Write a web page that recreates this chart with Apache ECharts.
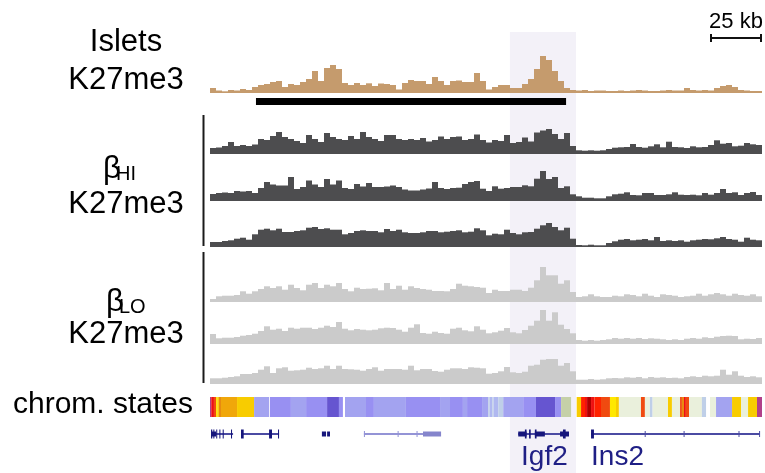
<!DOCTYPE html>
<html>
<head>
<meta charset="UTF-8">
<title>Igf2 / Ins2 K27me3</title>
<script src="https://cdn.jsdelivr.net/npm/echarts@6/dist/echarts.min.js"></script>
<style>
  html, body { margin: 0; padding: 0; background: #fff; }
  #main { width: 765px; height: 473px; }
</style>
</head>
<body>
<div id="main"></div>
<script>
// region shown, in kb (scale bar = 25 kb)
var regionKb = 265.4;

// signal, one value per bin (92 bins across the region)
var islets = [5,2.5,1.7,3,2.5,4,3,6,8,9,11,12,6,9,8,11,14,22,12,25,28,24,10,8,10,8,9.7,7,9.5,9,8,3.5,10,13,12,12,9,16,12,8,12,12.5,11,11,20,12,
  3.5,6,8,8,5,5,9,14,24,37,33,22,12,5,3,2.5,3,2,2.5,2.5,2,2,2.5,2,2.5,3,2.5,2,2,2.5,3,2.5,2.5,5,3,2.5,3,2.5,5,7,8,6,3,2.5,2,2];
var hi1 = [6,6.5,8,12,8,9,8,9.5,15,14,18,22,17,15,13,11,19,15,12,21,17,15,14,18,15,22,17,15,13,19,19,15,14,15,14,16,12.5,14,17.5,15,17,17.5,14,15,19.5,14,
  11.5,14,13,19,11,12,16.5,12.5,21.5,23.5,25,20,15,21,8,3.7,3.3,3.7,3.3,3.7,5,6.3,6.7,7,10,7,6.3,7.7,9.7,6.7,12.3,7,6.7,6,7.7,6.7,7,9,13.7,10.3,11,7.7,8.3,11,9.7,9];
var hi2 = [7,8,8.5,8,10,9.5,10,8,13,19,16.5,15.5,15.5,24,12,14,20.5,16.5,14,22,16.5,20.5,13,12,17,14.5,18,14,14,14.5,15.5,14,11.5,10.5,10.5,11.5,12.5,19,13,12,13,13.3,17,19,20,12.3,
  10,14.7,12.3,13,14,14,15.7,14.7,22.3,30,22,24,13,14.7,6.7,4.7,3.3,3.3,2.7,2.7,4.7,6.7,7.3,8.7,6,5.7,8,8,6,6,6.7,8.7,6.3,6,6.3,5.7,8,6.3,8,12,8,8.7,6,8,9,6];
var hi3 = [5,5,6,6.7,8.3,9.3,7.3,12.7,17.3,18.3,16.7,18.3,15,15,16,16.7,19.3,20,18,18.7,17.3,17.3,12.7,14,16,16.7,16,16,14.7,18,16,17.3,14.7,14,14,14.7,16,16,14.7,15.3,16,16.7,14.7,15.3,18.7,16.7,
  11.7,13.3,12.7,17.3,14,12.7,14.7,15,18.3,21.7,24,20,16.7,19.3,8.3,2,1.7,2.3,1.7,1.7,4,5.7,7.3,8,6.7,7.3,8,6.7,10,6,6.7,6,6.7,5.3,6.7,7.3,8,7.7,8.7,10,8,7.3,5.3,9.3,7.3,6.7];
var lo1 = [3,5.7,6.3,6.3,7,10.7,8.3,10.7,13,15.7,14,15.7,12.3,17.3,14,11.7,17.3,19,14,17.3,15.7,19,13,10.7,14.3,13,13.3,13.7,11.7,19,13,16.3,12.3,15.7,14,13,12.3,11,11,10.7,13,18.3,16.3,15.7,15,14.3,
  9,12.3,11,11,12.3,12.3,11,14.3,21.7,35,26.7,26.7,18.3,21.7,10,5,5.7,7.7,5.7,5,5,6.3,5.7,7.7,7,5.7,8.3,6.3,5,7.7,7,6.3,5,5.7,6.3,8.3,6.3,7.7,9,7.7,6.3,8.3,7,6.3,7.7,5.7];
var lo2 = [10,5.7,6.3,6.3,7,8.3,9,10.3,13,17.7,14.3,15.3,13,16.3,15.3,16.3,16.3,15,16.3,18.3,17,22,15.3,13.7,15,14.3,13.7,14.3,15.7,16.3,16,14.3,12.3,16.3,19.7,11,10.3,12.3,11,10.3,15.3,16.3,13.7,12.7,17.7,14.3,
  10.7,11.7,13.3,16,11.7,10.7,14,18.3,23.3,34,23.3,31.7,19.3,15,10.7,4,3.3,4,3.3,4,4.7,6,5.3,6,5.3,6,5,5.7,5.3,4.7,4,4.7,4,5.3,6,5.3,6.7,6,7.3,8,8.3,8,4.7,5.3,5,6];
var lo3 = [5.7,5.7,6.3,7,7.7,10,10,11,14.3,17.7,11,15.7,16.7,13.3,13.7,14.3,16.3,15,15.7,18.3,15,18.3,15,14.7,14.3,13.3,15,16.7,13.3,15,15,15,14.3,18.3,13.7,15,15,13,12.3,14.3,15.7,15.7,15,16.7,16.3,15.7,
  10.3,11,12.7,17,11.7,11,12.3,18.3,19.3,24.3,25,25,18.3,21,12.7,4.3,4.3,5,4.3,4.7,5.7,6,5.7,6.7,6.3,7,5.7,7,6.3,6.7,6,6.3,5.7,7,7.7,7,8.3,7.7,8.3,14.3,9.3,12.7,8.3,7,7.7,6.7];

// chromatin state segments [start kb, end kb, state]
var chromStates = [
  [0,0.6,'biv'],[0.6,1.9,'tssA'],[1.9,2.9,'tssFlnk'],[2.9,3.5,'enhStrong'],[3.5,4.3,'enh'],[4.3,5.3,'enhOrange'],
  [5.3,13.0,'enhWeak'],[13.0,21.2,'enh'],[21.2,28.4,'reprWeak'],[28.8,38.9,'repr'],[38.9,46.2,'reprWeak'],
  [46.2,56.3,'repr'],[56.3,62.0,'reprStrong'],[62.0,63.9,'repr'],[64.9,75.0,'reprWeak'],[75.0,78.8,'repr'],
  [78.8,94.2,'reprWeak'],[94.2,110.6,'repr'],[110.6,115.4,'reprWeak'],[115.4,121.6,'repr'],[121.6,123.6,'reprWeak'],
  [123.6,130.8,'repr'],[130.8,133.8,'reprWeak'],[133.8,134.5,'het'],[134.5,135.7,'reprFaint'],[135.7,136.4,'het'],
  [136.4,138.6,'reprFaint'],[138.6,141.0,'het'],[141.0,150.6,'reprWeak'],[150.6,156.7,'repr'],[156.7,165.9,'reprStrong'],
  [165.9,168.8,'repr'],[168.8,173.6,'enhBiv'],[176.3,178.4,'enh'],[178.4,180.3,'tssFlnk2'],[180.3,181.3,'tssA'],
  [181.3,183.2,'tssDark'],[183.2,184.8,'tssA'],[184.8,188.0,'tssFlnk2'],[188.0,192.3,'tssFlnk'],[192.3,195.2,'enhStrong'],
  [195.2,196.6,'enh'],[196.6,207.2,'low'],[207.2,209.1,'tssFlnk'],[209.1,211.5,'low'],[211.5,212.8,'het'],
  [212.8,220.2,'low'],[220.2,222.1,'enh'],[222.1,226.0,'low'],[226.0,226.9,'tssFlnk'],[226.9,227.9,'enhOrange'],
  [227.9,228.8,'tssA'],[228.8,230.3,'tssFlnk'],[230.3,236.5,'low'],[236.5,238.5,'het'],[240.4,243.3,'low'],
  [243.3,251.0,'reprWeak'],[251.0,255.3,'enh'],[255.3,258.7,'low'],[258.7,263.0,'enh'],[263.0,265.4,'biv']
];

// gene models [start kb, end kb, part]
var geneParts = [
  [0.5,11.1,'line'],[0.5,2.9,'utr'],[0.5,1.1,'cds'],[1.6,2.1,'cds'],[3.0,3.4,'cds'],[4.5,5.0,'cds'],[6.1,6.6,'cds'],[10.1,10.6,'cds'],
  [14.9,33.2,'line'],[14.9,16.2,'cds'],[28.4,29.8,'cds'],[32.7,33.2,'cds'],
  [53.8,55.8,'utr'],[56.3,57.7,'utr'],
  [74.0,102.4,'lineLt'],[102.4,111.1,'utrLt'],[74.0,74.5,'tickLt'],[90.2,90.7,'tickLt'],[99.3,99.8,'tickLt'],
  [148.2,172.6,'line'],[148.2,152.2,'utr'],[151.4,152.2,'cds'],[153.4,154.2,'cds'],[156.2,161.0,'utr'],[156.2,157.0,'cds'],
  [168.3,172.6,'utr'],[169.7,171.0,'cds'],
  [183.2,264.4,'line'],[183.2,184.6,'cds'],[209.0,209.4,'tick'],[227.7,228.1,'tick'],[254.1,254.5,'tick'],[264.0,264.4,'tick']
];
var geneLabels = [[160.8,'Igf2','center'],[183.2,'Ins2','left']];

var highlightKb = [[144.2,176.0]];   // Igf2 locus
var domainKb = [[22.1,171.2]];       // black bar under islet track
var scaleKb = [[regionKb - 25, regionKb, '25 kb']];

var stateColors = {
  biv: '#b0408a', tssA: '#ee1111', tssDark: '#b00000', tssFlnk: '#f04a10', tssFlnk2: '#ff2200',
  enhStrong: '#ffe800', enh: '#f8cc00', enhWeak: '#f0a70a', enhOrange: '#e88a10',
  reprStrong: '#6655d0', repr: '#9890f2', reprWeak: '#a3a3f0', reprFaint: '#b0b8f0',
  het: '#bfcfe8', enhBiv: '#c5d0a8', low: '#eaf0dc'
};
var partStyle = {
  line:   { h: 2, fill: '#4b4ba3' },
  utr:    { h: 5, fill: '#16167c' },
  cds:    { h: 9, fill: '#16167c' },
  tick:   { h: 6, fill: '#4b4ba3' },
  lineLt: { h: 2, fill: '#9494d6' },
  utrLt:  { h: 5, fill: '#8585cc' },
  tickLt: { h: 6, fill: '#9494d6' }
};

var FONT = "'Liberation Sans', Arial, sans-serif";
var bins = islets.map(function (v, i) { return i; });

var grids = [], xAxes = [], yAxes = [], series = [];

function addGrid(top, height, useBins, ymax) {
  var idx = grids.length;
  grids.push({ left: 210, width: 552, top: top, height: height, show: false });
  if (useBins) {
    xAxes.push({ type: 'category', gridIndex: idx, data: bins, show: false });
  } else {
    xAxes.push({ type: 'value', gridIndex: idx, min: 0, max: regionKb, show: false });
  }
  yAxes.push({ type: 'value', gridIndex: idx, min: 0, max: ymax, show: false });
  return idx;
}

function addTrack(top, height, values, color) {
  var g = addGrid(top, height, true, height);
  series.push({
    type: 'bar', xAxisIndex: g, yAxisIndex: g, data: values,
    barCategoryGap: '0%', barGap: '0%', silent: true, z: 3,
    itemStyle: { color: color }
  });
}

function rectRender(fillFn) {
  return function (params, api) {
    var a = api.coord([api.value(0), 0]);
    var b = api.coord([api.value(1), 0]);
    var cs = params.coordSys;
    return {
      type: 'rect',
      shape: { x: a[0], y: cs.y, width: b[0] - a[0], height: cs.height },
      style: { fill: fillFn(params.dataIndex) }
    };
  };
}

// highlight band behind everything
var gH = addGrid(32, 441, false, 1);
series.push({
  type: 'custom', xAxisIndex: gH, yAxisIndex: gH, data: highlightKb, z: 1, silent: true,
  renderItem: rectRender(function () { return '#f3f1f8'; })
});

// scale bar
var gS = addGrid(8, 34, false, 1);
series.push({
  type: 'custom', xAxisIndex: gS, yAxisIndex: gS, data: scaleKb, z: 4, silent: true,
  renderItem: function (params, api) {
    var a = api.coord([api.value(0), 0]);
    var b = api.coord([api.value(1), 0]);
    var y = 38;
    return {
      type: 'group', children: [
        { type: 'rect', shape: { x: a[0], y: y - 1, width: b[0] - a[0], height: 2 }, style: { fill: '#111' } },
        { type: 'rect', shape: { x: a[0], y: y - 4, width: 2, height: 8 }, style: { fill: '#111' } },
        { type: 'rect', shape: { x: b[0] - 2, y: y - 4, width: 2, height: 8 }, style: { fill: '#111' } },
        { type: 'text', style: { x: (a[0] + b[0]) / 2, y: 22, text: scaleKb[params.dataIndex][2],
          font: '22px ' + FONT, fill: '#000', align: 'center', verticalAlign: 'middle' } }
      ]
    };
  }
});

// signal tracks
addTrack(52, 41, islets, '#c59b6d');
var gD = addGrid(98, 7, false, 1);
series.push({
  type: 'custom', xAxisIndex: gD, yAxisIndex: gD, data: domainKb, z: 3, silent: true,
  renderItem: rectRender(function () { return '#000'; })
});
addTrack(123, 31, hi1, '#4d4d4f');
addTrack(170, 31, hi2, '#4d4d4f');
addTrack(216, 31, hi3, '#4d4d4f');
addTrack(263, 39, lo1, '#cbcbcb');
addTrack(305, 39, lo2, '#cbcbcb');
addTrack(345, 39, lo3, '#cbcbcb');

// chromatin states
var gC = addGrid(397, 20, false, 1);
series.push({
  type: 'custom', xAxisIndex: gC, yAxisIndex: gC, data: chromStates, z: 3, silent: true,
  renderItem: rectRender(function (i) { return stateColors[chromStates[i][2]]; })
});

// genes
var gG = addGrid(426, 16, false, 1);
series.push({
  type: 'custom', xAxisIndex: gG, yAxisIndex: gG, data: geneParts, z: 3, silent: true,
  renderItem: function (params, api) {
    var a = api.coord([api.value(0), 0]);
    var b = api.coord([api.value(1), 0]);
    var st = partStyle[geneParts[params.dataIndex][2]];
    var cy = params.coordSys.y + params.coordSys.height / 2;
    return {
      type: 'rect',
      shape: { x: a[0], y: cy - st.h / 2, width: Math.max(b[0] - a[0], 1), height: st.h },
      style: { fill: st.fill }
    };
  }
});
series.push({
  type: 'custom', xAxisIndex: gG, yAxisIndex: gG, data: geneLabels, z: 4, silent: true,
  renderItem: function (params, api) {
    var p = api.coord([api.value(0), 0]);
    var lab = geneLabels[params.dataIndex];
    return {
      type: 'text',
      style: { x: p[0], y: 457.6, text: lab[1], font: '28px ' + FONT, fill: '#1f1f85',
        align: lab[2], verticalAlign: 'middle' }
    };
  }
});

function label(text, x, y, size, align) {
  return { type: 'text', x: x, y: y, silent: true,
    style: { text: text, font: size + 'px ' + FONT, fill: '#000', align: align || 'center', verticalAlign: 'middle' } };
}

var chart = echarts.init(document.getElementById('main'));
chart.setOption({
  animation: false,
  grid: grids,
  xAxis: xAxes,
  yAxis: yAxes,
  series: series,
  graphic: [
    label('Islets', 126, 42.6, 31),
    label('K27me3', 126, 80, 31),
    label('\u03b2', 103, 169.3, 31, 'left'),
    label('HI', 116, 174, 20, 'left'),
    label('K27me3', 126, 204.3, 31),
    label('\u03b2', 106, 302.3, 31, 'left'),
    label('LO', 119, 307, 20, 'left'),
    label('K27me3', 126, 334.3, 31),
    label('chrom. states', 103, 404.6, 30),
    { type: 'line', silent: true, shape: { x1: 203.5, y1: 115, x2: 203.5, y2: 246 }, style: { stroke: '#1a1a1a', lineWidth: 2 } },
    { type: 'line', silent: true, shape: { x1: 203.5, y1: 252, x2: 203.5, y2: 383 }, style: { stroke: '#1a1a1a', lineWidth: 2 } }
  ]
});
</script>
</body>
</html>
